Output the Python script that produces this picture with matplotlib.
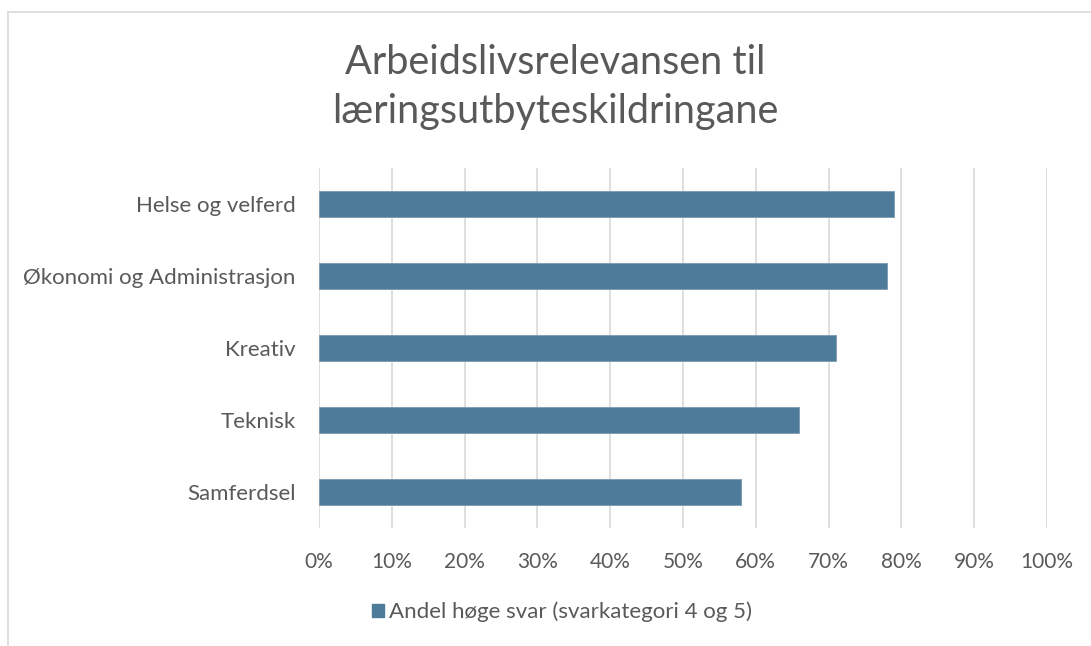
import matplotlib.pyplot as plt
from matplotlib.lines import Line2D
from matplotlib.patches import Patch

categories = ["Samferdsel", "Teknisk", "Kreativ", "Økonomi og Administrasjon", "Helse og velferd"]
values = [58, 66, 71, 78, 79]
series_name = "Andel høge svar (svarkategori 4 og 5)"
title = "Arbeidslivsrelevansen til\nlæringsutbyteskildringane"

plt.rcParams['font.family'] = ['Lato', 'DejaVu Sans']
text_color = '#595959'
bar_color = '#4E7B9A'

W, H = 1091, 646
fig = plt.figure(figsize=(W / 100, H / 100), dpi=100)
ax = fig.add_axes([319 / W, 1 - 528 / H, (1047 - 319) / W, (528 - 168) / H])

ax.barh(range(len(categories)), values, height=0.35, color=bar_color,
        edgecolor='#7A9BB3', linewidth=0.6, zorder=3)
ax.set_xlim(0, 100)
ax.set_ylim(-0.5, len(categories) - 0.5)
ax.set_yticks(range(len(categories)))
ax.set_yticklabels(categories, fontsize=16, color=text_color)
ax.set_xticks(range(0, 101, 10))
ax.set_xticklabels([f"{t}%" for t in range(0, 101, 10)], fontsize=15, color=text_color)
ax.tick_params(axis='y', length=0, pad=17)
ax.tick_params(axis='x', length=0, pad=17)
ax.grid(axis='x', color='#D9D9D9', linewidth=1.2, zorder=0)
for s in ax.spines.values():
    s.set_visible(False)

fig.text(555 / W, 1 - 87 / H, title, ha='center', va='center', fontsize=28.5,
         color=text_color, linespacing=1.42)

fig.legend(handles=[Patch(color=bar_color, label=series_name)], loc='center',
           bbox_to_anchor=(562 / W, 1 - 612 / H), frameon=False, fontsize=16,
           labelcolor=text_color, handlelength=0.55, handleheight=0.55, handletextpad=0.25)

# chart area border (left and top edges visible)
fig.add_artist(Line2D([8 / W, 8 / W], [0, 1 - 12 / H], color='#D9D9D9', lw=1.2, transform=fig.transFigure))
fig.add_artist(Line2D([8 / W, 1], [1 - 12 / H, 1 - 12 / H], color='#D9D9D9', lw=1.2, transform=fig.transFigure))

fig.savefig("out.png", dpi=100)
